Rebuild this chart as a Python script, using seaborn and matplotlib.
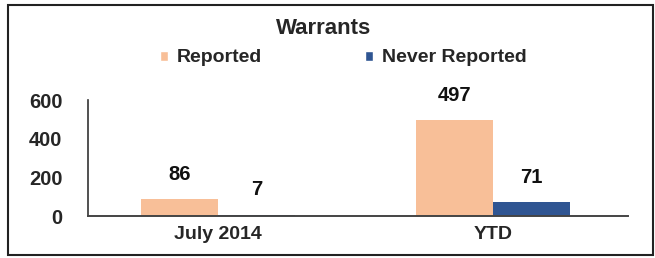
import matplotlib
matplotlib.use("Agg")
import matplotlib.pyplot as plt
import seaborn as sns
import pandas as pd
from matplotlib.patches import Rectangle, Patch

categories = ["July 2014", "YTD"]
series = ["Reported", "Never Reported"]
reported = [86, 497]
never_reported = [7, 71]
yticks = [0, 200, 400, 600]
colors = ["#F8BF98", "#2F5592"]

rows = []
for i, c in enumerate(categories):
    rows.append({"cat": c, "series": series[0], "value": reported[i]})
    rows.append({"cat": c, "series": series[1], "value": never_reported[i]})
df = pd.DataFrame(rows)

sns.set_style("white")
plt.rcParams["font.family"] = ["Liberation Sans", "DejaVu Sans"]
plt.rcParams["font.weight"] = "bold"

fig = plt.figure(figsize=(6.55, 2.58), dpi=100)
ax = fig.add_axes([88/655, 42/258, 540/655, 116/258])

sns.barplot(data=df, x="cat", y="value", hue="series", hue_order=series,
            order=categories, palette=colors, width=0.56, ax=ax,
            saturation=1, legend=False, edgecolor="none")

for cont in ax.containers:
    ax.bar_label(cont, padding=11, fontsize=14.5, fontweight="bold", color="#111111")

ax.set_ylim(0, 600)
ax.set_xlim(-0.473, 1.49)
ax.set_yticks(yticks)
ax.set_yticklabels([str(t) for t in yticks], fontsize=14.5, fontweight="bold")
ax.tick_params(axis="y", length=0, pad=18.5)
ax.tick_params(axis="x", length=0, pad=7, labelsize=14)
for lab in ax.get_xticklabels():
    lab.set_fontweight("bold")
ax.set_xlabel("")
ax.set_ylabel("")
for s in ["top", "right"]:
    ax.spines[s].set_visible(False)
ax.spines["left"].set_color("#333333")
ax.spines["bottom"].set_color("#444444")
ax.spines["left"].set_linewidth(1.2)
ax.spines["bottom"].set_linewidth(1.4)

fig.text(324/655, 1 - 29/258, "Warrants", ha="center", va="center",
         fontsize=16, fontweight="bold")

handles = [Patch(facecolor=colors[0]), Patch(facecolor=colors[1])]
fig.legend(handles, series, loc="center", bbox_to_anchor=(343/655, 1 - 58/258),
           ncol=2, frameon=False, handlelength=0.42, handleheight=0.42,
           handletextpad=0.45, columnspacing=5.3, prop={"weight": "bold", "size": 14})

fig.patches.append(Rectangle((8/655, 3/258), 645/655, 250/258, transform=fig.transFigure,
                             fill=False, edgecolor="#222222", linewidth=1.5))

fig.savefig("out.png", dpi=100)
